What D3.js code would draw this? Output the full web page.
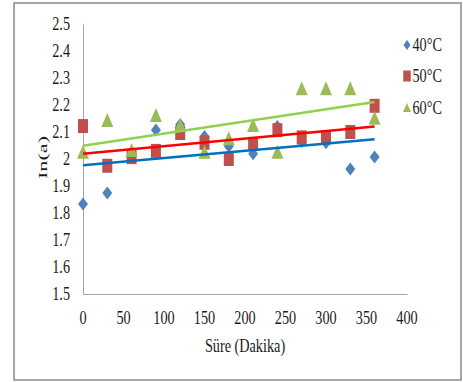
<!DOCTYPE html>
<html>
<head>
<meta charset="utf-8">
<script src="https://cdn.jsdelivr.net/npm/d3@7"></script>
<style>
  html, body { margin: 0; padding: 0; background: #fff; }
  svg { display: block; }
</style>
</head>
<body>
<svg id="chart" width="463" height="382" font-family="'Liberation Serif', 'Times New Roman', Times, serif"></svg>
<script>
// Sampling times (minutes)
const times = [0, 30, 60, 90, 120, 150, 180, 210, 240, 270, 300, 330, 360];

// ln(a) at each temperature
const series40 = [1.833, 1.874, 2.015, 2.107, 2.128, 2.083, 2.047, 2.019, 2.120, 2.065, 2.060, 1.963, 2.007];
const series50 = [2.122, 1.975, 2.007, 2.030, 2.096, 2.060, 2.000, 2.056, 2.107, 2.080, 2.080, 2.100, 2.197];
const series60 = [2.027, 2.144, 2.033, 2.163, 2.126, 2.027, 2.077, 2.126, 2.027, 2.262, 2.262, 2.262, 2.153];

const seriesNames = ["40°C", "50°C", "60°C"];

const xTicks = [0, 50, 100, 150, 200, 250, 300, 350, 400];
const yTicks = [1.5, 1.6, 1.7, 1.8, 1.9, 2.0, 2.1, 2.2, 2.3, 2.4, 2.5];

const xTitle = "Süre (Dakika)";
const yTitle = "In(a)";

const svg = d3.select("#chart");
const SX = 0.77;      // horizontal compression of the lettering
const FS = 18.5;      // font size
const FONT = "Liberation Serif";
const INK = "#1a1a1a";

const x = d3.scaleLinear().domain([0, 400]).range([83, 407]);
const y = d3.scaleLinear().domain([1.5, 2.5]).range([294, 24]);

// outer frame
svg.append("rect")
  .attr("x", 14).attr("y", 3).attr("width", 447).attr("height", 377)
  .attr("fill", "none").attr("stroke", "#8a8a8a").attr("stroke-width", 1.5);

// axes (lines only, no tick marks)
const xAxis = d3.axisBottom(x).tickValues(xTicks).tickSize(0).tickFormat("");
const yAxis = d3.axisLeft(y).tickValues(yTicks).tickSize(0).tickFormat("");
svg.append("g").attr("transform", `translate(0,${y(1.5)})`).call(xAxis)
  .select(".domain").attr("stroke", "#a6a6a6").attr("stroke-width", 1);
svg.append("g").attr("transform", `translate(${x(0)},0)`).call(yAxis)
  .select(".domain").attr("stroke", "#a6a6a6").attr("stroke-width", 1);

function label(sel) {
  return sel.attr("font-family", FONT).attr("font-size", FS).attr("fill", INK);
}

// tick labels
svg.append("g").selectAll("text").data(yTicks).join("text")
  .call(label)
  .attr("transform", d => `translate(70,${y(d)}) scale(${SX},1)`)
  .attr("text-anchor", "end").attr("dy", "0.35em")
  .text(d => d3.format("~g")(d));

svg.append("g").selectAll("text").data(xTicks).join("text")
  .call(label)
  .attr("transform", d => `translate(${x(d)},318) scale(${SX},1)`)
  .attr("text-anchor", "middle").attr("dy", "0.35em")
  .text(d => d);

// axis titles
svg.append("text").call(label)
  .attr("transform", `translate(245,351.5) scale(${SX},1)`)
  .attr("text-anchor", "middle")
  .text(xTitle);

svg.append("text").call(label)
  .attr("transform", `translate(46.5,157.5) scale(0.72,1.2) rotate(-90)`)
  .attr("text-anchor", "middle")
  .text(yTitle);

// marker shapes, sized as width x height
function diamond(w, h) { return `M0,${-h/2}L${w/2},0L0,${h/2}L${-w/2},0Z`; }
function square(w, h) { return `M${-w/2},${-h/2}h${w}v${h}h${-w}Z`; }
function triangle(w, h) { return `M0,${-h/2}L${w/2},${h/2}L${-w/2},${h/2}Z`; }

const groups = [
  { name: seriesNames[0], values: series40, fill: "#4f81bd", line: "#0070c0",
    shape: diamond, size: [10, 13], legend: [7, 10] },
  { name: seriesNames[1], values: series50, fill: "#c0504d", line: "#ff0000",
    shape: square, size: [10, 14], legend: [7.5, 11] },
  { name: seriesNames[2], values: series60, fill: "#9bbb59", line: "#92d050",
    shape: triangle, size: [12, 14], legend: [8, 9] }
];

// markers
groups.forEach(g => {
  svg.append("g").selectAll("path").data(times.map((t, i) => [t, g.values[i]])).join("path")
    .attr("transform", d => `translate(${x(d[0])},${y(d[1])})`)
    .attr("d", g.shape(g.size[0], g.size[1]))
    .attr("fill", g.fill);
});

// least-squares trend lines
function fit(ts, vs) {
  const mt = d3.mean(ts), mv = d3.mean(vs);
  const b = d3.sum(ts, (t, i) => (t - mt) * (vs[i] - mv)) / d3.sum(ts, t => (t - mt) ** 2);
  return t => mv + b * (t - mt);
}
const tEnds = [times[0], times[times.length - 1]];
groups.forEach(g => {
  const f = fit(times, g.values);
  svg.append("path")
    .datum(tEnds.map(t => [t, f(t)]))
    .attr("d", d3.line().x(d => x(d[0])).y(d => y(d[1])))
    .attr("fill", "none").attr("stroke", g.line).attr("stroke-width", 2.5);
});

// legend
const legendY = [45, 76, 107.5];
groups.forEach((g, i) => {
  svg.append("path")
    .attr("transform", `translate(407,${legendY[i]})`)
    .attr("d", g.shape(g.legend[0], g.legend[1]))
    .attr("fill", g.fill);
  svg.append("text").call(label)
    .attr("transform", `translate(412.5,${legendY[i]}) scale(${SX},1)`)
    .attr("dy", "0.35em")
    .text(g.name);
});
</script>
</body>
</html>
